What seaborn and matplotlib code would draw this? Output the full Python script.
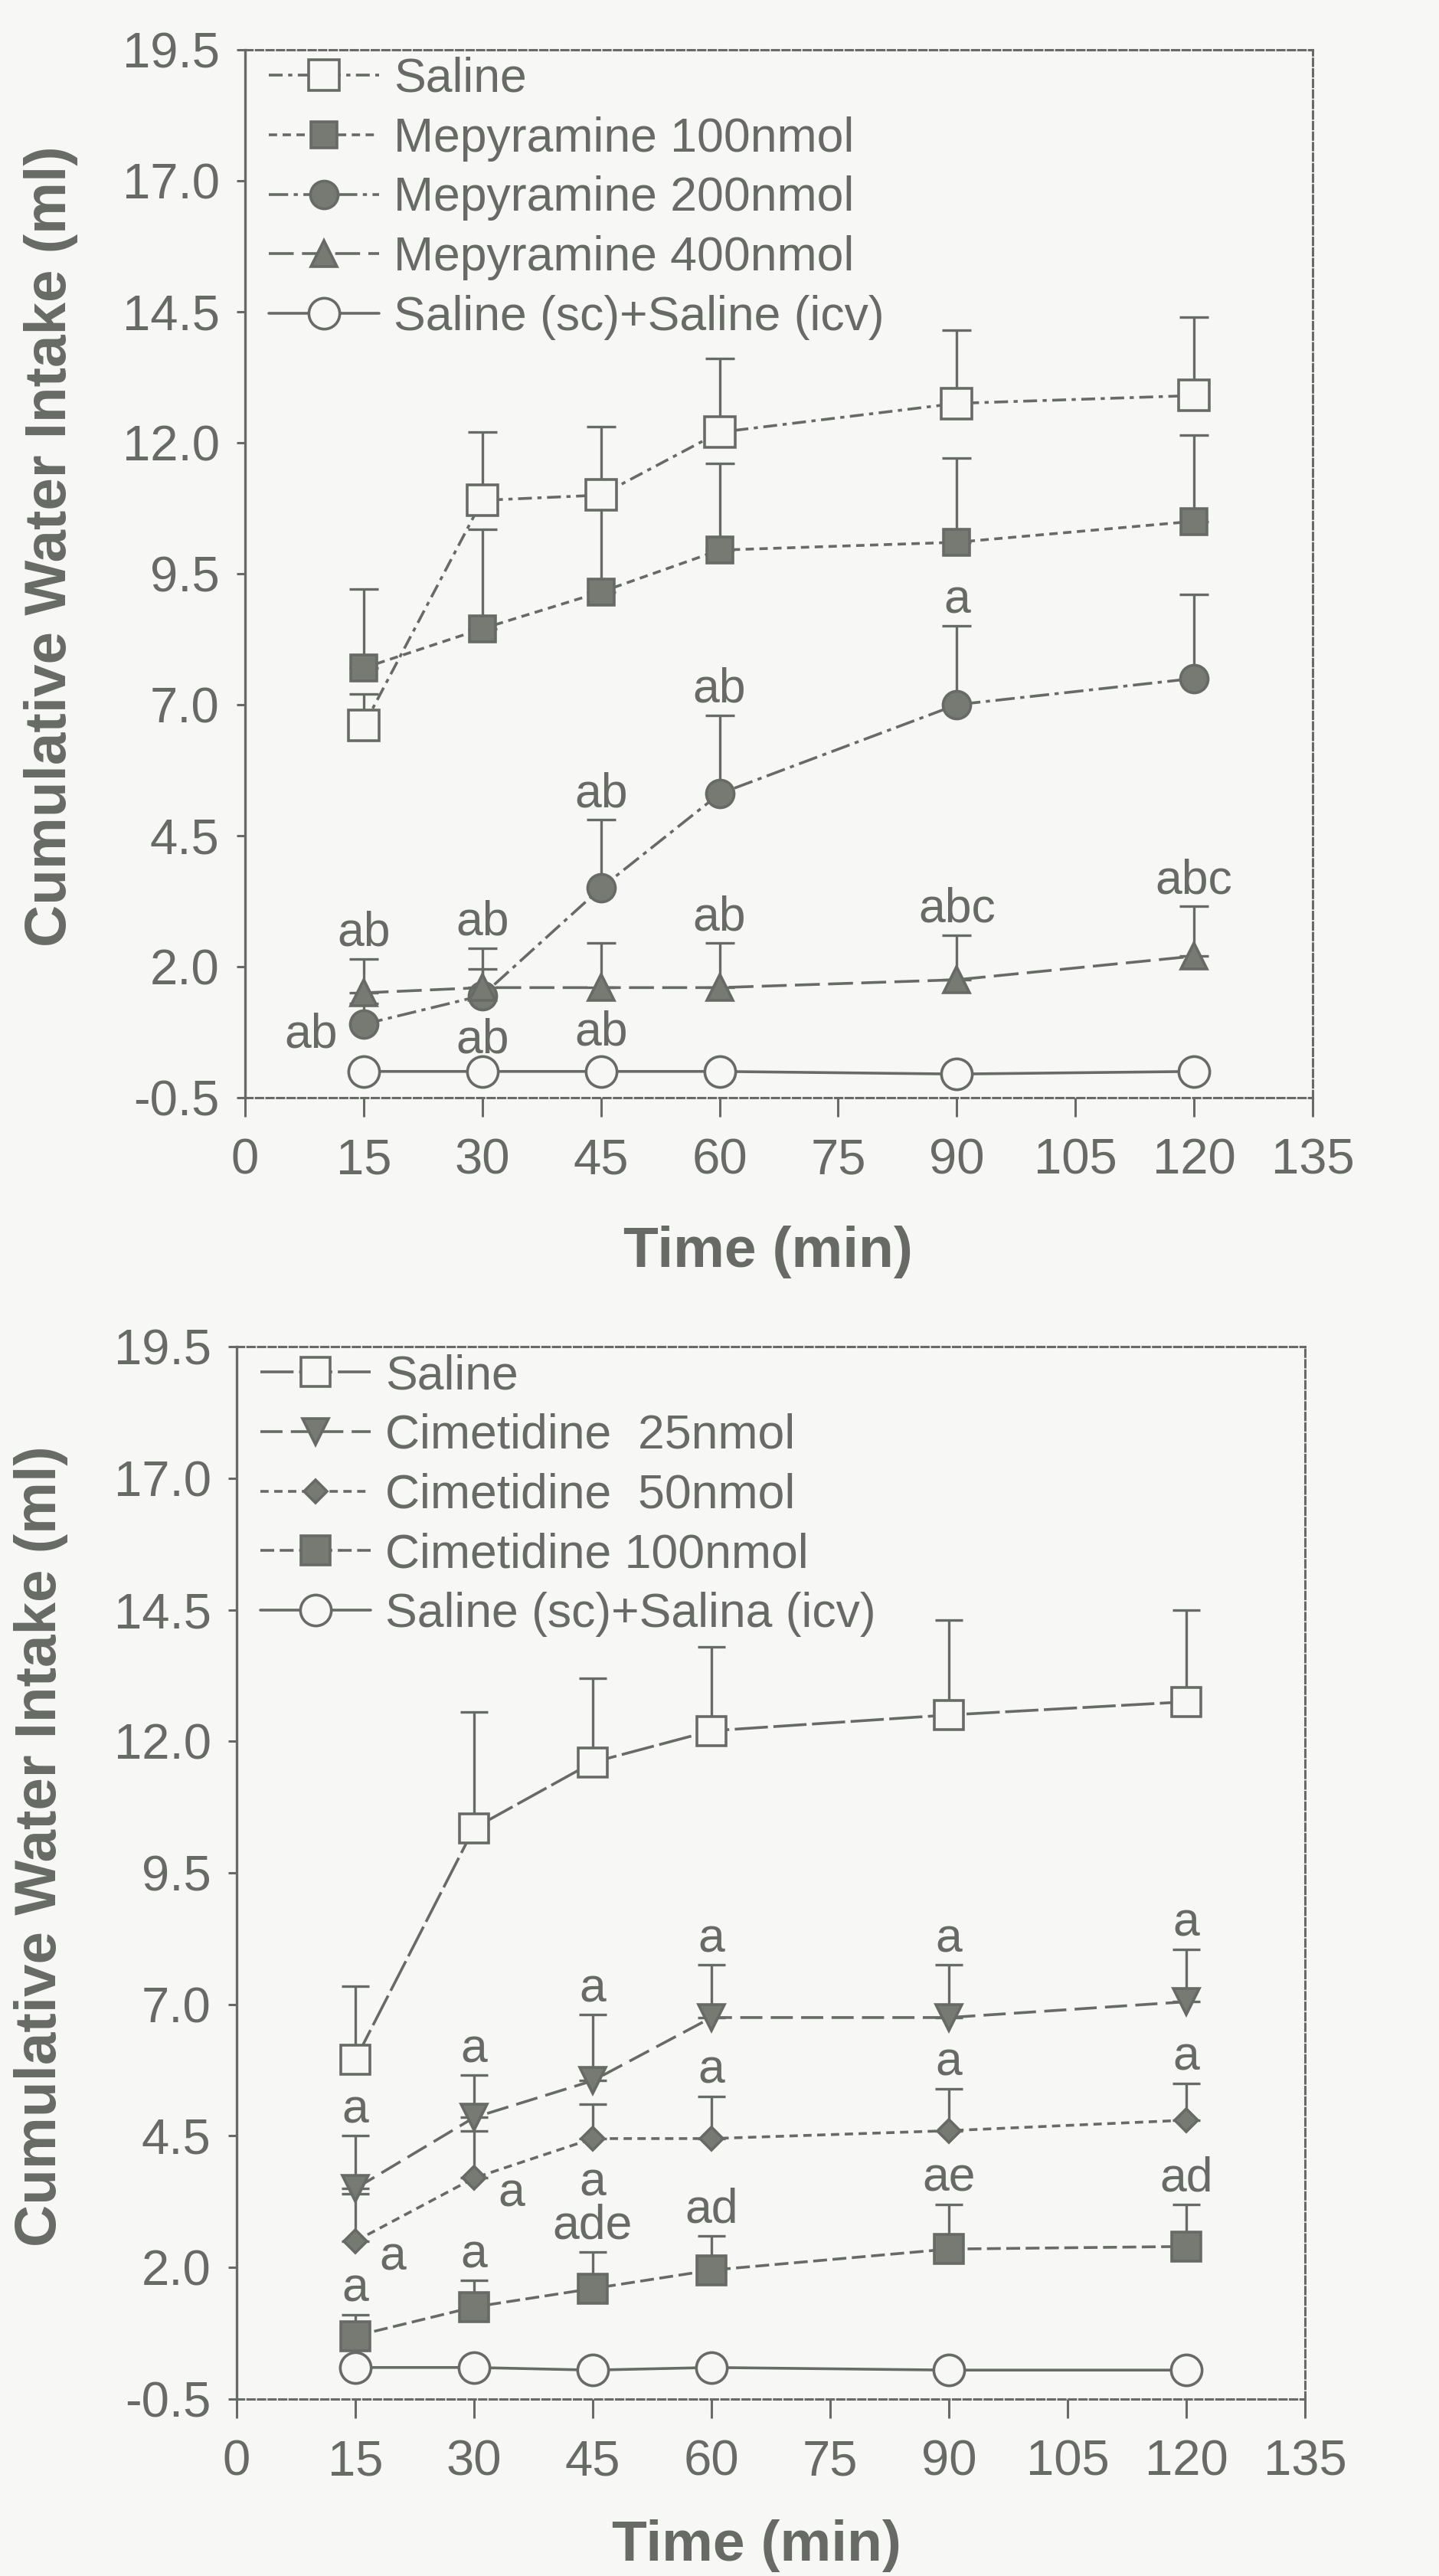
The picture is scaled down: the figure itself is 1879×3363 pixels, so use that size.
import numpy as np
import pandas as pd
import matplotlib
matplotlib.use("Agg")
import matplotlib.pyplot as plt
import seaborn as sns

# ---------------- data ----------------
times = [15, 30, 45, 60, 90, 120]
x_ticks = [0, 15, 30, 45, 60, 75, 90, 105, 120, 135]
y_ticks = [-0.5, 2.0, 4.5, 7.0, 9.5, 12.0, 14.5, 17.0, 19.5]

# Panel 1: H1 antagonist (mepyramine)
labels_top = ["Saline", "Mepyramine 100nmol", "Mepyramine 200nmol",
              "Mepyramine 400nmol", "Saline (sc)+Saline (icv)"]
saline_top = [6.6, 10.9, 11.0, 12.2, 12.75, 12.9]
saline_top_sem = [0.6, 1.3, 1.3, 1.4, 1.4, 1.5]
mep100 = [7.7, 8.45, 9.15, 9.95, 10.1, 10.5]
mep100_sem = [1.5, 1.9, 1.7, 1.65, 1.6, 1.65]
mep200 = [0.9, 1.45, 3.5, 5.3, 7.0, 7.5]
mep200_sem = [0.4, 0.5, 1.3, 1.5, 1.5, 1.6]
mep400 = [1.5, 1.6, 1.6, 1.6, 1.75, 2.2]
mep400_sem = [0.65, 0.75, 0.85, 0.85, 0.85, 0.95]
control_top = [0.0, 0.0, 0.0, 0.0, -0.05, 0.0]
control_top_sem = [0.0, 0.0, 0.0, 0.0, 0.0, 0.0]

# Panel 2: H2 antagonist (cimetidine)
labels_bottom = ["Saline", "Cimetidine  25nmol", "Cimetidine  50nmol",
                 "Cimetidine 100nmol", "Saline (sc)+Salina (icv)"]
saline_bot = [5.95, 10.35, 11.6, 12.2, 12.5, 12.75]
saline_bot_sem = [1.4, 2.2, 1.6, 1.6, 1.8, 1.75]
cim25 = [3.5, 4.85, 5.55, 6.75, 6.75, 7.05]
cim25_sem = [1.0, 0.8, 1.25, 1.0, 1.0, 1.0]
cim50 = [2.5, 3.7, 4.45, 4.45, 4.6, 4.8]
cim50_sem = [0.9, 0.9, 0.65, 0.8, 0.8, 0.7]
cim100 = [0.7, 1.25, 1.6, 1.95, 2.35, 2.4]
cim100_sem = [0.4, 0.5, 0.7, 0.65, 0.85, 0.8]
control_bot = [0.1, 0.1, 0.05, 0.1, 0.05, 0.05]
control_bot_sem = [0.0, 0.0, 0.0, 0.0, 0.0, 0.0]

# significance letters: (series index, time, text, placement)
notes_top = [
    (2, 15, "ab", "left"), (2, 30, "ab", "below"), (2, 45, "ab", "above"),
    (2, 60, "ab", "above"), (2, 90, "a", "above"),
    (3, 15, "ab", "above"), (3, 30, "ab", "above"), (3, 45, "ab", "below"),
    (3, 60, "ab", "above"), (3, 90, "abc", "above"), (3, 120, "abc", "above"),
]
notes_bottom = [
    (1, 15, "a", "above"), (1, 30, "a", "above"), (1, 45, "a", "above"),
    (1, 60, "a", "above"), (1, 90, "a", "above"), (1, 120, "a", "above"),
    (2, 15, "a", "right"), (2, 30, "a", "right"), (2, 45, "a", "below"),
    (2, 60, "a", "above"), (2, 90, "a", "above"), (2, 120, "a", "above"),
    (3, 15, "a", "above"), (3, 30, "a", "above"), (3, 45, "ade", "above"),
    (3, 60, "ad", "above"), (3, 90, "ae", "above"), (3, 120, "ad", "above"),
]

# ---------------- style ----------------
INK = "#686b65"
FILL = "#777a73"
PAPER = "#f7f8f6"

sns.set_style("ticks")
plt.rcParams["font.family"] = ["Liberation Sans", "DejaVu Sans"]
plt.rcParams["text.color"] = INK
plt.rcParams["axes.labelcolor"] = INK
plt.rcParams["xtick.color"] = INK
plt.rcParams["ytick.color"] = INK

styles_top = [
    dict(marker="s", markersize=29, markerfacecolor=PAPER, linestyle=(0, (5, 2, 1.5, 2))),
    dict(marker="s", markersize=25, markerfacecolor=FILL, linestyle=(0, (3, 2))),
    dict(marker="o", markersize=26, markerfacecolor=FILL, linestyle=(0, (7, 2, 1.5, 2))),
    dict(marker="^", markersize=25, markerfacecolor=FILL, linestyle=(0, (9, 3))),
    dict(marker="o", markersize=29, markerfacecolor=PAPER, linestyle="-"),
]
styles_bottom = [
    dict(marker="s", markersize=28, markerfacecolor=PAPER, linestyle=(0, (12, 2))),
    dict(marker="v", markersize=25, markerfacecolor=FILL, linestyle=(0, (8, 3))),
    dict(marker="D", markersize=15, markerfacecolor=FILL, linestyle=(0, (3, 2))),
    dict(marker="s", markersize=27, markerfacecolor=FILL, linestyle=(0, (5, 2))),
    dict(marker="o", markersize=29, markerfacecolor=PAPER, linestyle="-"),
]


def draw_panel(ax, labels, means, sems, styles, notes, capsize):
    for label, mean, sem, st in zip(labels, means, sems, styles):
        ax.errorbar(times, mean, yerr=[np.zeros(len(sem)), sem], fmt="none",
                    ecolor=INK, elinewidth=2.4, capsize=capsize, capthick=2.4,
                    zorder=2)
        df = pd.DataFrame({"Time (min)": times, "intake": mean})
        sns.lineplot(data=df, x="Time (min)", y="intake", ax=ax, color=INK,
                     linewidth=2.6, markeredgecolor=INK, markeredgewidth=2.6,
                     errorbar=None, label=label, zorder=3, **st)

    for idx, t, text, where in notes:
        i = times.index(t)
        y = means[idx][i]
        top = y + sems[idx][i]
        kw = dict(fontsize=45, color=INK, zorder=4)
        if where == "above":
            ax.text(t, top + 0.06, text, ha="center", va="bottom", **kw)
        elif where == "below":
            ax.text(t, y - 0.42, text, ha="center", va="top", **kw)
        elif where == "left":
            ax.text(t - 3.3, y - 0.2, text, ha="right", va="center", **kw)
        else:
            ax.text(t + 3.0, y - 0.3, text, ha="left", va="center", **kw)

    ax.set_xlim(0, 135)
    ax.set_ylim(-0.5, 19.5)
    ax.set_xticks(x_ticks)
    ax.set_xticklabels([str(v) for v in x_ticks])
    ax.set_yticks(y_ticks)
    ax.set_yticklabels([f"{v:.1f}" for v in y_ticks])
    ax.tick_params(axis="x", direction="out", length=18, width=2.2, pad=20,
                   labelsize=47)
    ax.tick_params(axis="y", direction="out", length=8, width=2.2, pad=16,
                   labelsize=47)
    ax.set_facecolor(PAPER)
    ax.spines["left"].set_linewidth(2.4)
    ax.spines["left"].set_color(INK)
    for side in ("top", "right", "bottom"):
        ax.spines[side].set_visible(True)
        ax.spines[side].set_color(INK)
        ax.spines[side].set_linewidth(2.2)
        ax.spines[side].set_linestyle((0, (3, 1.5)))

    handles, labs = ax.get_legend_handles_labels()
    ax.legend(handles, labs, loc="upper left", bbox_to_anchor=(0.018, 0.998),
              frameon=False, fontsize=45, numpoints=1, handlelength=2.3,
              handletextpad=0.3, labelspacing=0.3, borderaxespad=0,
              borderpad=0.1, labelcolor=INK)

    ax.set_xlabel("Time (min)", fontsize=54, fontweight="bold", color=INK)
    ax.set_ylabel("Cumulative Water Intake (ml)", fontsize=55,
                  fontweight="bold", color=INK, va="center")


fig = plt.figure(figsize=(18.79, 33.63), dpi=100, facecolor=PAPER)

ax_top = fig.add_axes([0.1703, 0.5739, 0.7419, 0.4068])
draw_panel(ax_top, labels_top,
           [saline_top, mep100, mep200, mep400, control_top],
           [saline_top_sem, mep100_sem, mep200_sem, mep400_sem, control_top_sem],
           styles_top, notes_top, capsize=14)
ax_top.xaxis.set_label_coords(0.49, -0.122)
ax_top.yaxis.set_label_coords(-0.182, 0.526)

ax_bot = fig.add_axes([0.16445, 0.06869, 0.74242, 0.40856])
draw_panel(ax_bot, labels_bottom,
           [saline_bot, cim25, cim50, cim100, control_bot],
           [saline_bot_sem, cim25_sem, cim50_sem, cim100_sem, control_bot_sem],
           styles_bottom, notes_bottom, capsize=13)
ax_bot.xaxis.set_label_coords(0.487, -0.114)
ax_bot.yaxis.set_label_coords(-0.183, 0.525)

fig.savefig("out.png", dpi=100, facecolor=PAPER)
